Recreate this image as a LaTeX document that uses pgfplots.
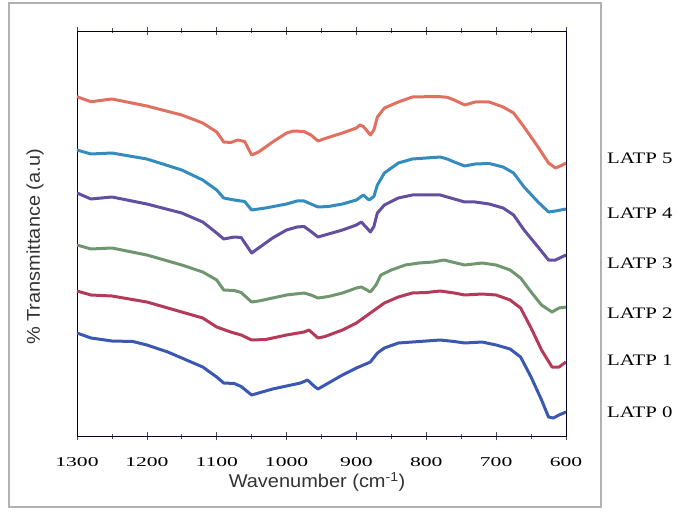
\documentclass[border=0pt]{standalone}
\usepackage{fontspec}
\setmainfont{Liberation Serif}
\newfontfamily\tickfont{Liberation Serif}[FakeStretch=1.6]
\newfontfamily\labfont{Liberation Serif}[FakeStretch=1.3]
\newfontfamily\arialfont{Liberation Sans}[FakeStretch=1.08]
\usepackage{pgfplots}
\pgfplotsset{compat=1.18}
\definecolor{cA}{RGB}{226,112,96}
\definecolor{cB}{RGB}{52,140,190}
\definecolor{cC}{RGB}{100,78,160}
\definecolor{cD}{RGB}{112,150,112}
\definecolor{cE}{RGB}{180,58,90}
\definecolor{cF}{RGB}{58,88,178}
\begin{document}
\begin{tikzpicture}[x=1pt,y=1pt]
\path[use as bounding box] (0,0) rectangle (677,513);
\draw[gray!60, line width=1.2pt] (9,6) rectangle (601,510);
\begin{axis}[at={(77pt,77pt)}, anchor=south west, scale only axis,
  width=489pt, height=405pt,
  xmin=600, xmax=1300, x dir=reverse,
  ymin=31, ymax=436, y dir=reverse,
  ytick=\empty,
  xtick={600,700,...,1300}, minor xtick={650,750,...,1250},
  tick align=center, major tick length=8pt, minor tick length=5pt,
  tick style={black!70, line width=0.6pt},
  axis line style={line width=0.9pt, black!85!blue},
  /pgf/number format/assume math mode=true,
  /pgf/number format/1000 sep={},
  xticklabel style={font=\tickfont\fontsize{13.5}{13.5}\selectfont, yshift=-14pt},
  every axis plot/.append style={line width=3pt, line join=round},
  clip=true]
\addplot[cA] coordinates {(1300,96.7)(1280,101.7)(1250,99)(1200,106)(1150,115)(1120,123)(1100,132)(1090,142)(1080,142.5)(1070,140)(1060,141.5)(1050,155)(1040,152)(1020,142)(1000,133)(990,131)(975,131.5)(965,135)(955,141)(945,138.5)(920,133)(900,128)(895,125)(890,126.5)(880,135)(875,130)(870,117)(860,108)(840,102)(820,97)(800,96.7)(780,96.7)(770,97.3)(760,100)(745,105)(730,102)(710,102)(690,107)(675,113)(660,127)(640,147)(625,163)(615,168)(605,165)(600,163)};
\addplot[cB] coordinates {(1300,150)(1280,154)(1250,153)(1200,159)(1150,170)(1120,180)(1100,190)(1090,198)(1075,200)(1060,201.5)(1050,210)(1030,208)(1000,204)(985,201)(975,201)(965,204)(955,207)(940,206.5)(920,204)(900,200)(890,195)(882,200)(875,196.5)(870,185)(860,173)(840,163)(820,159)(800,158)(780,157)(770,159)(760,162)(745,166)(730,164)(710,163.5)(690,167)(675,173)(660,187)(640,202)(625,212)(615,211)(600,209)};
\addplot[cC] coordinates {(1300,193)(1280,199)(1250,197)(1200,204)(1150,213)(1120,222)(1100,233)(1090,239)(1075,237)(1065,237.5)(1050,253)(1040,248)(1020,238)(1000,230)(985,227)(975,226.5)(965,231.5)(955,237)(945,235)(920,230)(900,225)(893,222)(885,228)(880,232)(875,226.5)(870,213)(860,205)(840,198)(820,195)(800,195)(780,195)(760,199)(745,202)(730,202)(710,204)(690,208)(675,215)(660,230)(640,247)(625,260)(615,260)(600,255)};
\addplot[cD] coordinates {(1300,245)(1280,249)(1250,248)(1200,255)(1150,265)(1120,272)(1100,280)(1090,290)(1075,290.5)(1065,292.5)(1050,302)(1040,301)(1020,298)(1000,295)(975,293)(965,295)(955,298)(940,296.5)(920,293)(900,288)(893,287)(885,290)(880,292)(872,285)(865,275)(850,270)(830,265)(810,263)(790,262)(775,260)(760,262.5)(745,265)(720,263)(700,265)(680,270)(665,278)(650,292)(635,305)(620,312)(610,308)(600,307)};
\addplot[cE] coordinates {(1300,291)(1280,295)(1250,296)(1200,302)(1150,312)(1120,318)(1100,327)(1080,332)(1065,335)(1050,340)(1030,339.5)(1000,335)(975,332)(968,330)(955,338)(945,336.5)(920,330)(900,323)(880,313)(860,303)(840,297)(820,293)(800,292.5)(780,291)(760,293)(745,295)(720,294)(700,295)(680,300)(665,308)(650,328)(635,350)(620,367)(610,367)(600,362)};
\addplot[cF] coordinates {(1300,333)(1280,338)(1250,341)(1220,341.5)(1200,345)(1170,352)(1150,358)(1120,367)(1100,377)(1090,383)(1075,383.5)(1065,386.5)(1050,395)(1040,393)(1020,389)(1000,386)(980,383)(970,380)(960,386.5)(955,389)(940,383)(920,375)(900,368)(880,362)(870,353)(860,348)(840,343)(820,342)(800,341)(780,340)(760,341.5)(745,343)(720,342)(700,345)(680,349)(665,357)(650,377)(635,400)(625,417)(618,418)(610,415)(600,412)};
\end{axis}
\node[font=\arialfont\fontsize{18.5}{18.5}\selectfont, text=black!80] at (317,31) {Wavenumber (cm\textsuperscript{-1})};
\node[font=\arialfont\fontsize{18.5}{18.5}\selectfont, text=black!80, rotate=90] at (35,266) {\% Transmittance (a.u)};
\begin{scope}[every node/.style={font=\labfont\fontsize{16}{16}\selectfont, anchor=west, inner sep=0pt}]
\node at (607,354.5) {LATP 5};
\node at (607,299.5) {LATP 4};
\node at (607,250) {LATP 3};
\node at (607,200) {LATP 2};
\node at (607,153) {LATP 1};
\node at (607,101) {LATP 0};
\end{scope}
\end{tikzpicture}
\end{document}
